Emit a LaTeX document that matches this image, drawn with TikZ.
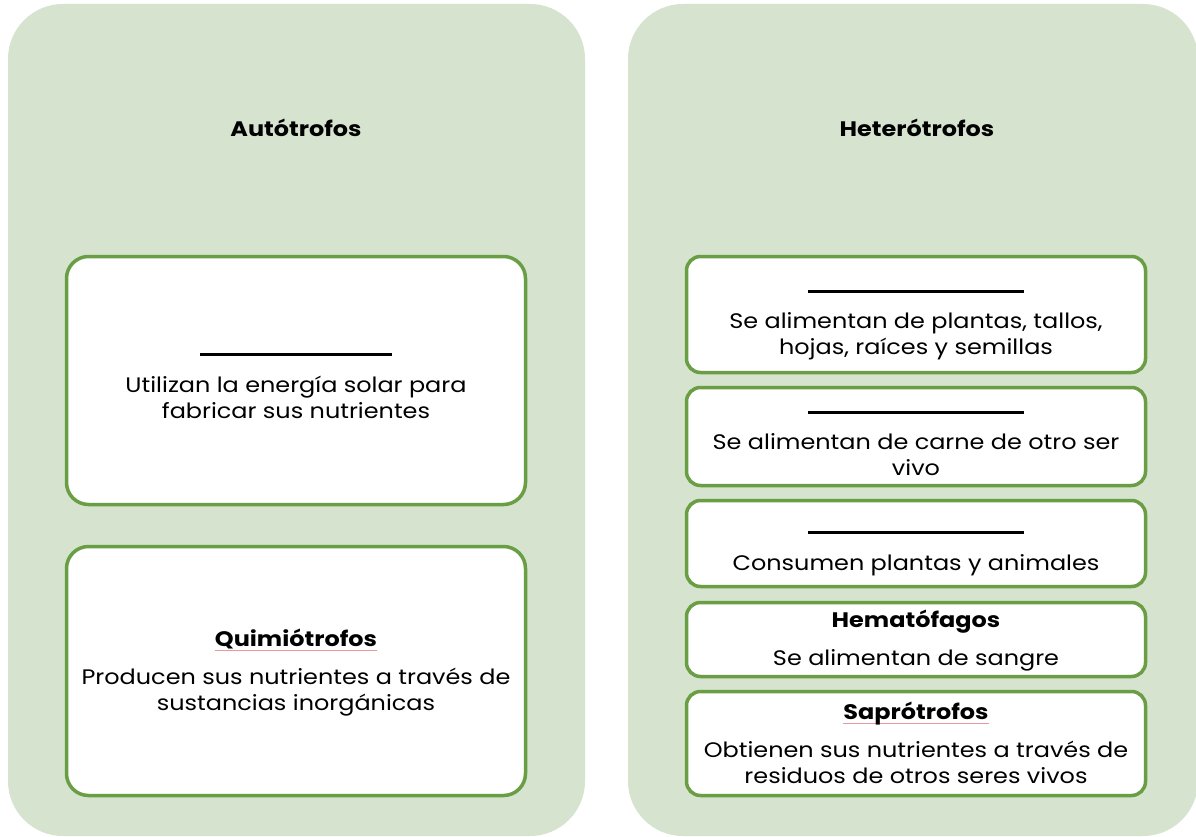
\documentclass[tikz,border=0pt]{standalone}
\usepackage{fontspec}
\setmainfont{Poppins}[FakeStretch=1.14]
\definecolor{panelgreen}{HTML}{D6E3CE}
\definecolor{edgegreen}{HTML}{6A9E44}
\definecolor{spellred}{HTML}{E89A9A}
\newsavebox\spellbox
\newcommand\spellmark[1]{\sbox\spellbox{#1}\rlap{\color{spellred}\rule[-4pt]{\wd\spellbox}{0.8pt}}\usebox\spellbox}
\newcommand\blankline[1]{\rule[-3pt]{#1}{3pt}}
\begin{document}
\begin{tikzpicture}[x=1pt,y=-1pt,
  font=\fontsize{21}{26}\selectfont,
  panelbox/.style={fill=panelgreen, draw=none, rounded corners=55pt, inner sep=0pt},
  card/.style={draw=edgegreen, line width=3.5pt, fill=white, rounded corners=22pt,
    inner sep=0pt, minimum width=459pt},
  smallcard/.style={card, rounded corners=14pt},
  cardtext/.style={align=center, inner sep=0pt},
  heading/.style={font=\fontsize{21}{26}\selectfont\bfseries}]
\useasboundingbox (0,0) rectangle (1196,837);
\clip (0,0) rectangle (1196,837);
\fill[white] (0,0) rectangle (1196,837);
% panels
\node[panelbox, minimum width=577pt, minimum height=832pt] (pl) at (296.5,420) {};
\node[panelbox, minimum width=570pt, minimum height=832pt] (pr) at (913,420) {};
\node[heading] (tl) at (296,128) {Autótrofos};
\node[heading] (tr) at (917,128) {Heterótrofos};
% left cards
\node[card, minimum height=248pt] (l1) at (296,380.5) {};
\node[cardtext] (l1t) at ([yshift=-5.5pt]l1.center)
  {\blankline{192pt}\\[14pt]Utilizan la energía solar para\\fabricar sus nutrientes};
\node[card, minimum height=249pt] (l2) at (296,671) {};
\node[cardtext] (l2t) at ([yshift=-1.5pt]l2.center)
  {{\bfseries\spellmark{Quimiótrofos}}\\[12pt]Producen sus nutrientes a través de\\sustancias inorgánicas};
% right cards
\node[smallcard, minimum height=116pt] (r1) at (916,314.5) {};
\node[cardtext] (r1t) at ([yshift=-10.5pt]r1.center)
  {\blankline{216pt}\\[12pt]Se alimentan de plantas, tallos,\\hojas, raíces y semillas};
\node[smallcard, minimum height=98pt] (r2) at (916,436.5) {};
\node[cardtext] (r2t) at ([yshift=-7pt]r2.center)
  {\blankline{216pt}\\[12pt]Se alimentan de carne de otro ser\\vivo};
\node[smallcard, minimum height=86pt] (r3) at (916,543.5) {};
\node[cardtext] (r3t) at ([yshift=-10pt]r3.center)
  {\blankline{216pt}\\[14pt]Consumen plantas y animales};
\node[smallcard, minimum height=74pt] (r4) at (916,639.5) {};
\node[cardtext] (r4t) at ([yshift=-1pt]r4.center)
  {{\bfseries Hematófagos}\\[12pt]Se alimentan de sangre};
\node[smallcard, minimum height=104pt] (r5) at (916,743.5) {};
\node[cardtext] (r5t) at ([yshift=0.5pt]r5.center)
  {{\bfseries\spellmark{Saprótrofos}}\\[12pt]Obtienen sus nutrientes a través de\\residuos de otros seres vivos};
\end{tikzpicture}
\end{document}
